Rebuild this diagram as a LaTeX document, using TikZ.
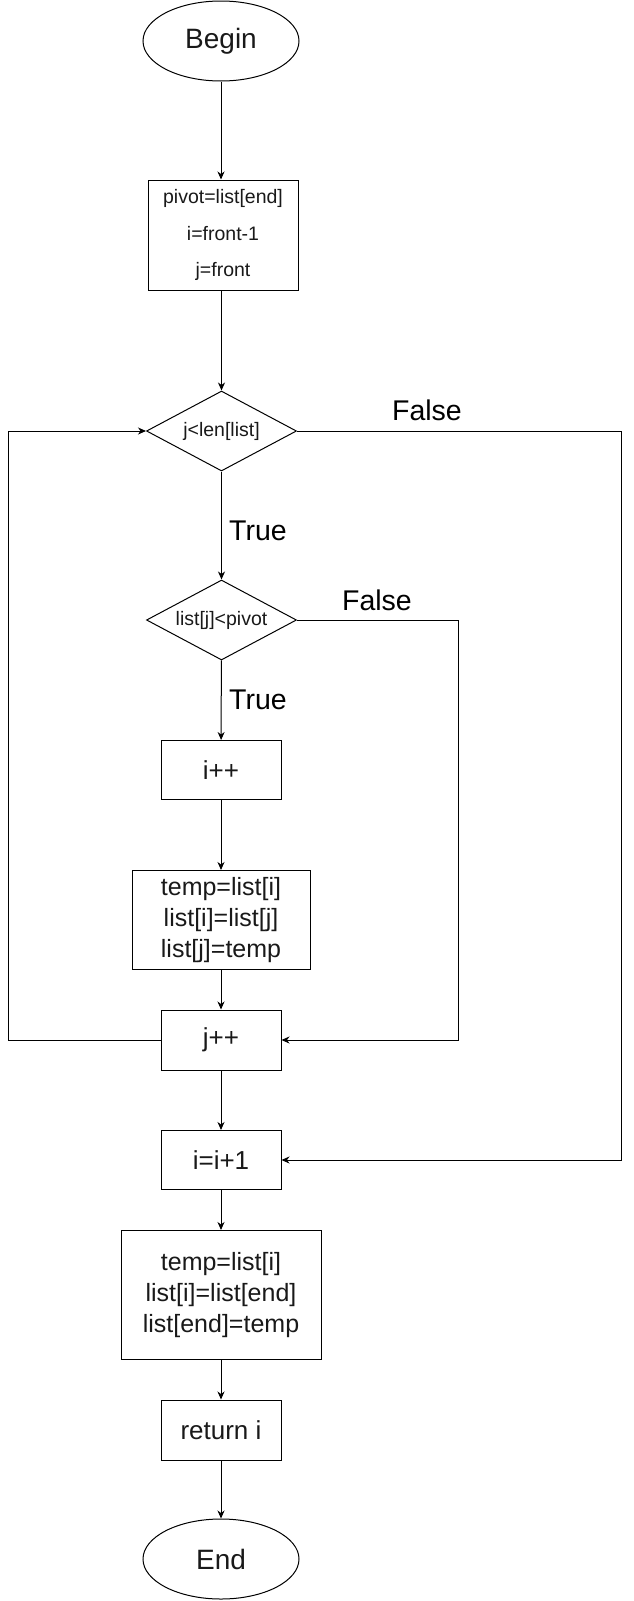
\documentclass[tikz,border=0pt]{standalone}
\usepackage{fontspec}
\setmainfont{Liberation Sans}
\usetikzlibrary{arrows.meta,shapes.geometric}
\tikzset{
  base/.style={draw=black, line width=1pt, inner sep=0pt, align=center, text=black!90},
  term/.style={base, ellipse, minimum width=156pt, minimum height=80pt, font=\fontsize{28}{34}\selectfont},
  proc/.style={base, rectangle, minimum width=120pt, minimum height=60pt, font=\fontsize{26}{31}\selectfont},
  swapbox/.style={base, rectangle, font=\fontsize{25}{30.6}\selectfont},
  dec/.style={base, diamond, aspect=1.875, minimum width=150pt, minimum height=80pt, font=\fontsize{19.5}{24}\selectfont},
  lbl/.style={inner sep=0pt, text=black, font=\fontsize{28.5}{34}\selectfont},
  conn/.style={draw=black, line width=1pt, -{Stealth[length=8pt,width=7pt,inset=2.5pt]}},
  line/.style={draw=black, line width=1pt}
}
\begin{document}
\begin{tikzpicture}[x=1pt,y=-1pt]
\useasboundingbox (0,0) rectangle (633,1601);
\node[term] (begin) at (221,41) {Begin};
\node[base, rectangle, minimum width=150pt, minimum height=110pt, font=\fontsize{19.5}{36.5}\selectfont] (init) at (223,235) {pivot=list[end]\\i=front-1\\j=front};
\node[dec] (d1) at (221.5,431) {j<len[list]};
\node[dec] (d2) at (221.5,620) {list[j]<pivot};
\node[proc, minimum height=59pt] (iinc) at (221,770) {i++};
\node[swapbox, minimum width=178pt, minimum height=99pt] (swap1) at (221,920) {temp=list[i]\\list[i]=list[j]\\list[j]=temp};
\node[proc] (jinc) at (221,1040) {j++};
\node[proc, minimum height=59pt] (iadd) at (221,1160) {i=i+1};
\node[swapbox, minimum width=200pt, minimum height=129pt] (swap2) at (221,1295) {temp=list[i]\\list[i]=list[end]\\list[end]=temp};
\node[proc] (ret) at (221,1430) {return i};
\node[term] (end) at (221,1559) {End};

\coordinate (lA) at (8,1040);
\coordinate (lB) at (8,431);
\coordinate (rA) at (621,431);
\coordinate (rB) at (621,1160);
\coordinate (mA) at (458,620);
\coordinate (mB) at (458,1040);

\draw[conn] (begin.south) -- (begin.south |- init.north);
\draw[conn] (d1.north |- init.south) -- (d1.north);
\draw[conn] (d1) -- (d2);
\draw[conn] (d2) -- (iinc);
\draw[conn] (iinc) -- (swap1);
\draw[conn] (swap1) -- (jinc);
\draw[conn] (jinc) -- (iadd);
\draw[conn] (iadd) -- (swap2);
\draw[conn] (swap2) -- (ret);
\draw[conn] (ret) -- (end);
\draw[conn] (jinc.west) -- (lA) -- (lB) -- (d1.west);
\draw[conn] (d1.east) -- (rA) -- (rB) -- (iadd.east);
\draw[conn] (d2.east) -- (mA) -- (mB) -- (jinc.east);

\node[lbl] (f1) at (427,410) {False};
\node[lbl] (t1) at (258,531) {True};
\node[lbl] (f2) at (377,600) {False};
\node[lbl] (t2) at (258,700) {True};
\end{tikzpicture}
\end{document}
